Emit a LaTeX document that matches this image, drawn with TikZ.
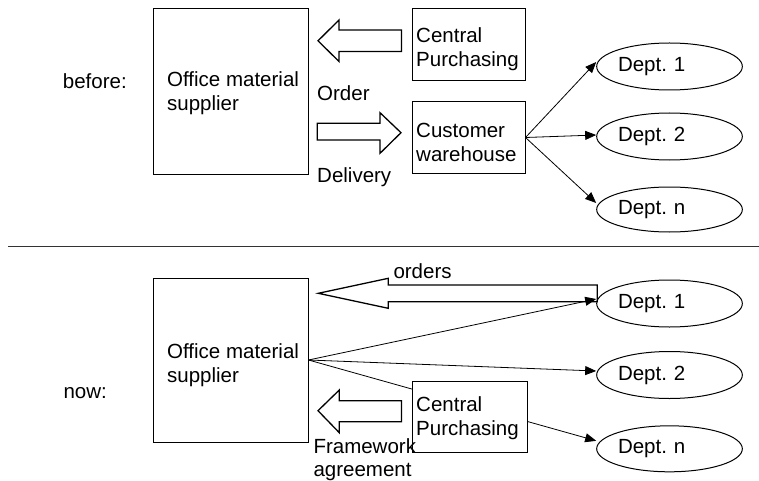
\documentclass[tikz,border=0pt]{standalone}
\usepackage{fontspec}
\setmainfont{Liberation Sans}
\usetikzlibrary{shapes.geometric,arrows.meta,calc}
\begin{document}
\begin{tikzpicture}[x=1pt,y=-1pt,
  box/.style={draw, line width=1pt, inner sep=0pt, fill=white},
  txt/.style={font=\fontsize{20.5}{24}\selectfont, inner sep=0pt, align=left, anchor=base west},
  dept/.style={ellipse, draw, line width=1pt, minimum width=145pt, minimum height=47pt,
    text width=103pt, inner sep=0pt, align=left, font=\fontsize{20.5}{24}\selectfont},
  conn/.style={line width=0.8pt, -{Triangle[length=11pt,width=9pt]}},
  block/.style={draw, line width=1.3pt, line join=miter},
  sep/.style={draw, line width=1.2pt, black!80}
]
\useasboundingbox (0,0) rectangle (759,481);

% ---------- before ----------
\node[box, minimum width=155pt, minimum height=165pt] (s1) at (230.5,91.5) {};
\node[txt] (s1t) at (167,111) {Office material\\supplier};
\node[txt] (before) at (62.7,89) {before:};

\node[box, minimum width=113pt, minimum height=72pt] (cp1) at (468.5,45) {};
\node[txt] (cp1t) at (416,66.7) {Central\\Purchasing};
\node[box, minimum width=113pt, minimum height=71pt] (cw) at (468.5,137.5) {};
\node[txt] (cwt) at (416,161.7) {Customer\\warehouse};

\node[dept] (d1) at (669.5,66.5) {Dept.\ 1};
\node[dept] (d2) at (669.5,136.5) {Dept.\ 2};
\node[dept, minimum height=45pt] (dn) at (669.5,209.5) {Dept.\ n};

\draw[block] (401.5,30) -- (339,30) -- (339,20) -- (318,40.8) -- (339,61.5) -- (339,51.5) -- (401.5,51.5) -- cycle;
\draw[block] (317.3,123.3) -- (380,123.3) -- (380,112.7) -- (401,132.7) -- (380,153.3) -- (380,140) -- (317.3,140) -- cycle;

\node[txt] (order) at (317,100.7) {Order};
\node[txt] (delivery) at (317,182.7) {Delivery};

\draw[conn] (cw.east) -- ($(d1.west)+(0,-4.5)$);
\draw[conn] (cw.east) -- ($(d2.west)+(0,-1.5)$);
\draw[conn] (cw.east) -- ($(dn.west)+(0,-6.5)$);

% ---------- separator ----------
\coordinate (sepL) at (8,246.7);
\coordinate (sepR) at (759,246.7);
\draw[sep] (sepL) -- (sepR);

% ---------- now ----------
\node[box, minimum width=155pt, minimum height=164pt] (s2) at (230.5,360) {};
\node[txt] (s2t) at (167,382.7) {Office material\\supplier};
\node[txt] (now) at (63.3,398) {now:};

\node[dept] (e1) at (669.5,303.5) {Dept.\ 1};
\node[dept] (e2) at (669.5,375) {Dept.\ 2};
\node[dept, minimum height=46pt] (en) at (669.5,448.8) {Dept.\ n};

\draw[conn] (s2.east) -- ($(e1.west)+(0,-4.5)$);
\draw[conn] (s2.east) -- ($(e2.west)+(0,-4)$);
\draw[conn] (s2.east) -- ($(en.west)+(0,-8)$);

\node[box, minimum width=115pt, minimum height=71pt] (cp2) at (469.5,416.5) {};
\node[txt] (cp2t) at (416,435) {Central\\Purchasing};

\draw[block] (597.3,285) -- (388.3,285) -- (388.3,278.3) -- (318.3,293.3) -- (388.3,308.3) -- (388.3,301.7) -- (597.3,301.7) -- cycle;
\node[txt] (orders) at (393.3,278.3) {orders};

\draw[block] (401.5,400.7) -- (339.3,400.7) -- (339.3,390) -- (318,410.7) -- (339.3,432.7) -- (339.3,421.7) -- (401.5,421.7) -- cycle;
\node[txt, font=\fontsize{20.5}{23.5}\selectfont] (fw) at (313.3,476.8) {Framework\\agreement};
\end{tikzpicture}
\end{document}
